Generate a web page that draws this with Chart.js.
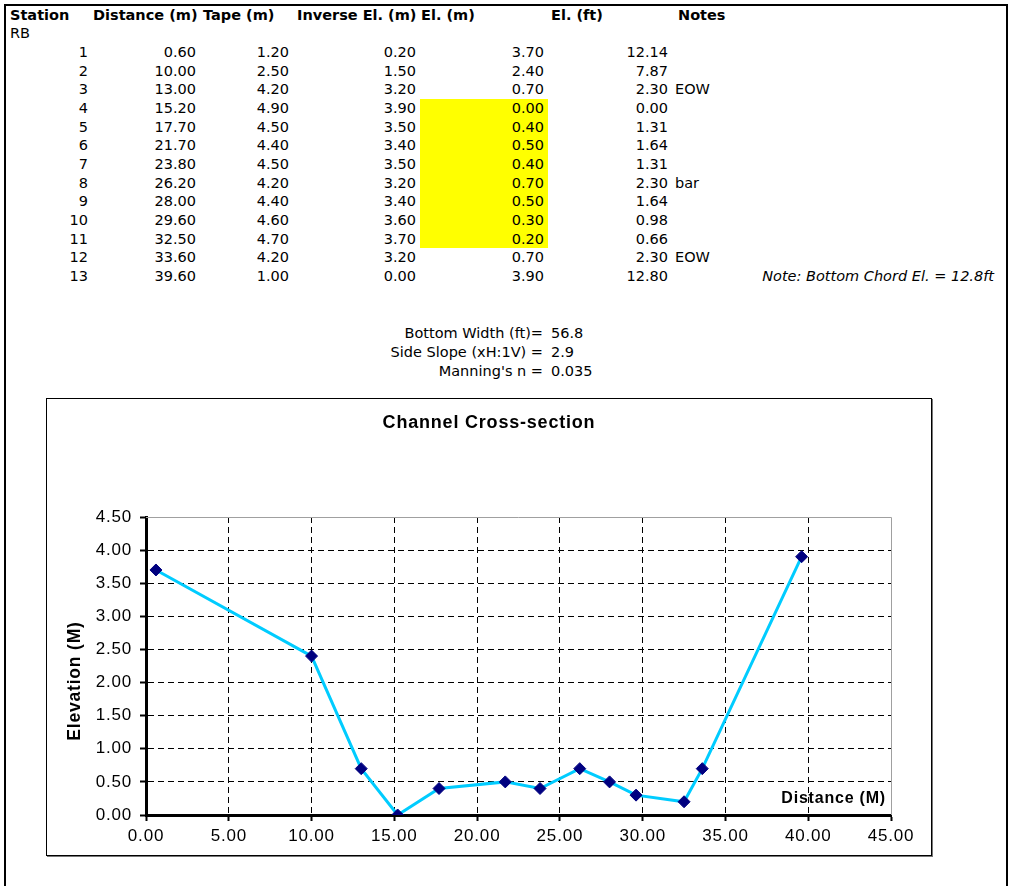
<!DOCTYPE html>
<html>
<head>
<meta charset="utf-8">
<script src="https://cdn.jsdelivr.net/npm/chart.js@4.4.0/dist/chart.umd.min.js"></script>
<style>
  body { margin: 0; background: #fff; width: 1010px; height: 886px; overflow: hidden; position: relative; }
  .frame { position: absolute; left: 4px; top: 4px; width: 1000px; height: 900px; border: 2px solid #000; border-bottom: none; }
  .t { position: absolute; font-family: "DejaVu Sans", Verdana, sans-serif; font-size: 14.5px; line-height: 18px; white-space: nowrap; color: #000; }
  .h { font-weight: bold; }
  .r { transform: translateX(-100%); }
  .hl { position: absolute; background: #ffff00; }
  .box { position: absolute; left: 46px; top: 398px; width: 884px; height: 456px; border: 1px solid #000; box-shadow: 1px 1px 0 #777; background: #fff; }
</style>
</head>
<body>
<div class="frame"></div>
<div id="sheet"></div>
<div class="box"><canvas id="chart" width="884" height="456"></canvas></div>
<script>
// Survey data
const stations = [1, 2, 3, 4, 5, 6, 7, 8, 9, 10, 11, 12, 13];
const distance = [0.6, 10.0, 13.0, 15.2, 17.7, 21.7, 23.8, 26.2, 28.0, 29.6, 32.5, 33.6, 39.6];
const tape = [1.2, 2.5, 4.2, 4.9, 4.5, 4.4, 4.5, 4.2, 4.4, 4.6, 4.7, 4.2, 1.0];
const inverseEl = [0.2, 1.5, 3.2, 3.9, 3.5, 3.4, 3.5, 3.2, 3.4, 3.6, 3.7, 3.2, 0.0];
const elevation = [3.7, 2.4, 0.7, 0.0, 0.4, 0.5, 0.4, 0.7, 0.5, 0.3, 0.2, 0.7, 3.9];
const elevationFt = [12.14, 7.87, 2.30, 0.00, 1.31, 1.64, 1.31, 2.30, 1.64, 0.98, 0.66, 2.30, 12.80];
const notes = ["", "", "EOW", "", "", "", "", "bar", "", "", "", "EOW", ""];
const headers = ["Station", "Distance (m)", "Tape (m)", "Inverse El. (m)", "El. (m)", "El. (ft)", "Notes"];
const paramLabels = ["Bottom Width (ft)=", "Side Slope (xH:1V) =", "Manning's n ="];
const paramValues = ["56.8", "2.9", "0.035"];
const bottomChordNote = "Note: Bottom Chord El. = 12.8ft";
const xTicks = { min: 0, max: 45, step: 5 };
const yTicks = { min: 0, max: 4.5, step: 0.5 };

// rows whose El. (m) cell is shaded
const shadedFrom = 4, shadedTo = 11;

const sheet = document.getElementById('sheet');
function cell(text, x, y, cls, right) {
  const d = document.createElement('div');
  d.className = 't ' + (cls || '') + (right ? ' r' : '');
  d.textContent = text;
  d.style.left = x + 'px';
  d.style.top = (y - 9) + 'px';
  sheet.appendChild(d);
  return d;
}

// header row
const headerX = [10, 93, 203, 297, 421, 551, 678];
headers.forEach((h, i) => cell(h, headerX[i], 15, 'h'));
cell("RB", 10, 33);

// shading
const rowY = i => 52 + i * 18.67;
const hl = document.createElement('div');
hl.className = 'hl';
hl.style.left = '420px';
hl.style.width = '128px';
hl.style.top = (rowY(shadedFrom - 1) - 9.3) + 'px';
hl.style.height = (rowY(shadedTo - 1) - rowY(shadedFrom - 1) + 18.67) + 'px';
sheet.appendChild(hl);

stations.forEach((s, i) => {
  const y = rowY(i);
  cell(String(s), 88, y, '', true);
  cell(distance[i].toFixed(2), 196, y, '', true);
  cell(tape[i].toFixed(2), 289, y, '', true);
  cell(inverseEl[i].toFixed(2), 416, y, '', true);
  cell(elevation[i].toFixed(2), 544, y, '', true);
  cell(elevationFt[i].toFixed(2), 668, y, '', true);
  if (notes[i]) cell(notes[i], 675, y);
});
cell(bottomChordNote, 994, rowY(12), '', true).style.fontStyle = 'italic';

paramLabels.forEach((p, i) => {
  const y = 333 + i * 19;
  cell(p, 543, y, '', true);
  cell(paramValues[i], 551, y);
});

// Chart
const isMax = (c, max) => c.tick && Math.abs(c.tick.value - max) < 1e-9;
const fontFamily = '"Liberation Sans", Arial, sans-serif';

// Excel-like wide text, plot border and the in-plot axis labels
const excelLook = {
  id: 'excelLook',
  beforeInit(chart) { chart.ctx.letterSpacing = '0.8px'; },
  afterLayout(chart) {
    // centre the title over the whole chart box, not the padded area
    const t = chart.titleBlock;
    if (t) { t.left = 0; t.right = chart.width; t.width = chart.width; }
  },
  beforeDraw(chart) { chart.ctx.letterSpacing = '0.8px'; },
  beforeDatasetsDraw(chart) {
    const { ctx, chartArea: a } = chart;
    ctx.save();
    ctx.strokeStyle = '#a0a0a0';
    ctx.lineWidth = 1;
    ctx.beginPath();
    ctx.moveTo(a.left, a.top + 0.5);
    ctx.lineTo(a.right + 0.5, a.top + 0.5);
    ctx.lineTo(a.right + 0.5, a.bottom);
    ctx.stroke();
    ctx.restore();
  },
  afterDatasetsDraw(chart) {
    const { ctx, chartArea: a } = chart;
    ctx.save();
    ctx.font = 'bold 16px ' + fontFamily;
    ctx.fillStyle = '#000';
    ctx.textAlign = 'right';
    ctx.textBaseline = 'middle';
    ctx.fillText('Distance (M)', a.right - 5, a.bottom - 16);
    // y axis title, sits a little below the middle like the original
    ctx.translate(28, (a.top + a.bottom) / 2 + 15);
    ctx.rotate(-Math.PI / 2);
    ctx.textAlign = 'center';
    ctx.font = 'bold 17.5px ' + fontFamily;
    ctx.fillText('Elevation (M)', 0, 0);
    ctx.restore();
  }
};

const axisFont = { family: fontFamily, size: 17 };

new Chart(document.getElementById('chart'), {
  type: 'line',
  data: {
    datasets: [{
      label: 'Elevation',
      data: distance.map((d, i) => ({ x: d, y: elevation[i] })),
      borderColor: '#00CCFF',
      borderWidth: 3,
      tension: 0,
      fill: false,
      pointStyle: 'rectRot',
      pointRadius: 6,
      pointBorderWidth: 1,
      pointBackgroundColor: '#000080',
      pointBorderColor: '#000080'
    }]
  },
  options: {
    responsive: false,
    animation: false,
    devicePixelRatio: 1,
    layout: { padding: { left: 0, right: 40, top: 0, bottom: 0 } },
    plugins: {
      legend: { display: false },
      tooltip: { enabled: false },
      title: {
        display: true,
        text: 'Channel Cross-section',
        color: '#000',
        font: { family: fontFamily, size: 18, weight: 'bold' },
        padding: { top: 13.2, bottom: 83.2 }
      }
    },
    scales: {
      x: {
        type: 'linear',
        min: xTicks.min,
        max: xTicks.max,
        afterFit: s => { s.height = 40; },
        ticks: { stepSize: xTicks.step, color: '#000', font: axisFont, padding: 5, maxRotation: 0, callback: v => v.toFixed(2) },
        grid: {
          color: c => isMax(c, xTicks.max) ? 'rgba(0,0,0,0)' : '#000',
          lineWidth: 1,
          tickLength: 6,
          tickColor: '#000',
          tickWidth: 2
        },
        border: { display: true, color: '#000', width: 3, dash: [6, 4] }
      },
      y: {
        type: 'linear',
        min: yTicks.min,
        max: yTicks.max,
        afterFit: s => { s.width = 99; },
        ticks: { stepSize: yTicks.step, color: '#000', font: axisFont, padding: 8, callback: v => v.toFixed(2) },
        grid: {
          color: c => isMax(c, yTicks.max) ? 'rgba(0,0,0,0)' : '#000',
          lineWidth: 1,
          tickLength: 6,
          tickColor: '#000',
          tickWidth: 2
        },
        border: { display: true, color: '#000', width: 3, dash: [6, 4] }
      }
    }
  },
  plugins: [excelLook]
});
</script>
</body>
</html>
